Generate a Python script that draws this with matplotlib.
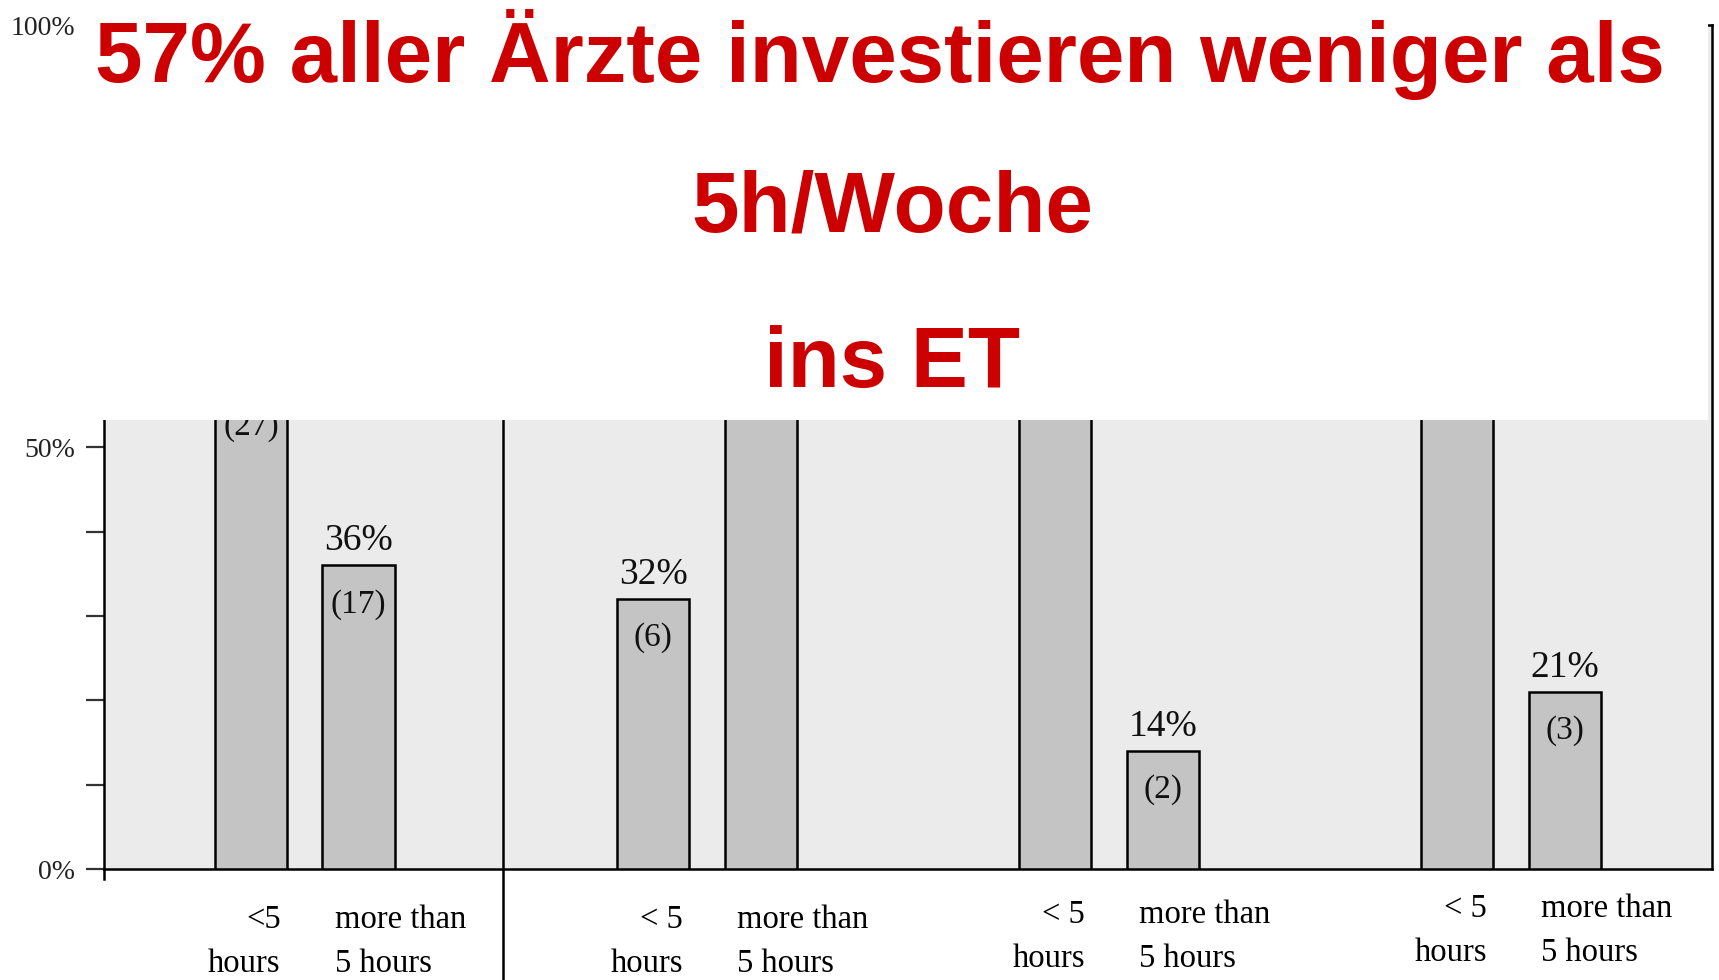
import matplotlib.pyplot as plt
import matplotlib.patches as patches

# Data

n_groups = 4
short_labels = ["<5\nhours", "< 5\nhours", "< 5\nhours", "< 5\nhours"]
long_labels = ["more than\n5 hours"] * 4

short_pct = [57, 32, 86, 79]
long_pct = [36, 68, 14, 21]
short_n = [27, 6, 12, 11]
long_n = [17, 13, 2, 3]

ytick_vals = list(range(0, 101, 10))
ytick_text = ["0%", "", "", "", "", "50%", "", "", "", "", "100%"]

title_lines = ["57% aller Ärzte investieren weniger als", "5h/Woche", "ins ET"]

# Layout

serif = "Liberation Serif"
bar_fill = "#c4c4c4"
bg = "#ebebeb"
red = "#cc0000"

off_short = 0.365
off_long = 0.633
width = 0.18
label_shift = [0, 0, 0.006, 0.013]
box_bottom = 53.5  # percent level where the white title box starts

fig = plt.figure(figsize=(17.19, 9.8), dpi=100)
ax = fig.add_axes([0.0606, 0.113, 0.9356, 0.8613])
ax.set_facecolor(bg)
ax.set_xlim(0, n_groups)
ax.set_ylim(0, 100)

xs_short = [g + off_short for g in range(n_groups)]
xs_long = [g + off_long for g in range(n_groups)]

ax.bar(xs_short, short_pct, width=width, color=bar_fill,
       edgecolor="black", linewidth=1.8, zorder=3)
ax.bar(xs_long, long_pct, width=width, color=bar_fill,
       edgecolor="black", linewidth=1.8, zorder=3)

# value labels (the ones behind the title box are not visible in the original)
for xs, pcts, ns in [(xs_short, short_pct, short_n), (xs_long, long_pct, long_n)]:
    for x, p, n in zip(xs, pcts, ns):
        if p + 2.9 < box_bottom:
            ax.text(x, p + 2.9, f"{p}%", ha="center", va="center",
                    fontsize=27, family=serif, color="#111111", zorder=4)
        if p - 4.6 < box_bottom:
            ax.text(x, p - 4.6, f"({n})", ha="center", va="center",
                    fontsize=24, family=serif, color="#111111", zorder=4)

# category labels below the axis
tr = ax.get_xaxis_transform()
for g in range(n_groups):
    s1, s2 = short_labels[g].split("\n")
    l1, l2 = long_labels[g].split("\n")
    dy = label_shift[g]
    xr = xs_short[g] + width / 2 - 0.016
    xl = xs_long[g] - width / 2 + 0.03
    ax.text(xr, -0.060 + dy, s1, ha="right", va="center", transform=tr,
            fontsize=23.5, family=serif, clip_on=False)
    ax.text(xr, -0.112 + dy, s2, ha="right", va="center", transform=tr,
            fontsize=23.5, family=serif, clip_on=False)
    ax.text(xl, -0.060 + dy, l1, ha="left", va="center", transform=tr,
            fontsize=23.5, family=serif, clip_on=False)
    ax.text(xl, -0.112 + dy, l2, ha="left", va="center", transform=tr,
            fontsize=23.5, family=serif, clip_on=False)

# group separator and small spine extension
ax.plot([0.993, 0.993], [-0.25, 1], transform=tr, color="black", lw=1.8,
        clip_on=False, zorder=5)
ax.plot([0, 0], [-0.012, 0], transform=tr, color="black", lw=1.8, clip_on=False)

ax.set_xticks([])
ax.set_yticks(ytick_vals)
ax.set_yticklabels(ytick_text, family=serif, fontsize=20, color="#222222")
ax.tick_params(axis="y", direction="out", length=13, width=1.6, pad=8, color="#333333")

for sp in ax.spines.values():
    sp.set_color("black")
    sp.set_linewidth(1.8)

# white overlay box with the red title
box = patches.Rectangle((0.045, 0.5716), 0.99362 - 0.045, 0.5, transform=fig.transFigure,
                        facecolor="white", edgecolor="none", zorder=10)
fig.patches.append(box)

title_y = [0.944, 0.786, 0.628]
title_x = [0.512, 0.519, 0.519]
for txt, tx, ty in zip(title_lines, title_x, title_y):
    fig.text(tx, ty, txt, ha="center", va="center", color=red,
             fontsize=61.5, fontweight="bold", family="Liberation Sans", zorder=11)

plt.savefig("out.png", dpi=100)
